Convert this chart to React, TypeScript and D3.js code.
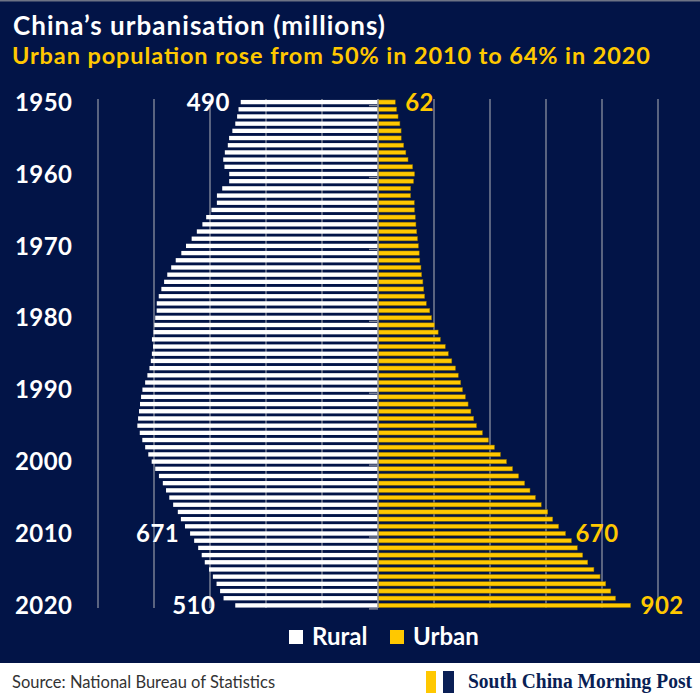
import React from "react";
import * as d3 from "d3";

const years: number[] = d3.range(1950, 2021);
const rural: number[] = [
  490.27, 498.18, 503.19, 509.7, 520.17, 531.8, 536.43, 547.04, 552.73, 548.36,
  531.34, 531.52, 556.36, 575.26, 575.49, 594.93, 613.68, 627.2, 647.04, 665.54,
  685.68, 702.45, 722.42, 738.66, 752.64, 763.9, 773.76, 783.05, 790.14, 790.47,
  795.65, 799.01, 801.74, 807.34, 803.4, 807.57, 811.41, 816.26, 823.65, 831.64,
  841.38, 846.2, 849.96, 853.44, 856.81, 859.47, 850.85, 841.77, 831.53, 820.38,
  808.37, 795.63, 782.41, 768.51, 757.05, 745.44, 731.6, 714.96, 703.99, 689.38,
  671.13, 656.56, 642.22, 629.61, 618.66, 603.46, 589.73, 576.61, 564.01, 551.62,
  509.79,
];
const urban: number[] = [
  61.69, 66.32, 71.63, 78.26, 82.49, 82.85, 91.85, 99.49, 107.21, 123.71,
  130.73, 127.07, 116.59, 116.46, 129.5, 130.45, 133.13, 135.48, 138.38, 141.17,
  144.24, 147.11, 149.35, 153.45, 155.95, 160.3, 163.41, 166.69, 172.45, 184.95,
  191.4, 201.71, 214.8, 222.74, 240.17, 250.94, 263.66, 276.74, 286.61, 295.4,
  301.95, 312.03, 321.75, 331.73, 341.69, 351.74, 373.04, 394.49, 416.08, 437.48,
  459.06, 480.64, 502.12, 523.76, 542.83, 562.12, 582.88, 606.33, 624.03, 645.12,
  669.78, 690.79, 711.82, 731.11, 749.16, 771.16, 793.02, 813.47, 831.37, 848.43,
  902.2,
];
const tickYears: number[] = [1950, 1960, 1970, 1980, 1990, 2000, 2010, 2020];
const gridValues: number[] = [-1000, -800, -600, -400, -200, 0, 200, 400, 600, 800, 1000];
const labelYears: number[] = [1950, 2010, 2020];
const ruralLabelGap: number[] = [11, 11, 20];

const title = "China\u2019s urbanisation (millions)";
const subtitle = "Urban population rose from 50% in 2010 to 64% in 2020";
const source = "Source: National Bureau of Statistics";
const brand = "South China Morning Post";
const legendItems = ["Rural", "Urban"];

const BG = "#021447";
const YELLOW = "#FFC800";
const GRID = "#8a8fa0";
const FONT = "Lato, 'Open Sans', sans-serif";

export default function App() {
  const x = d3.scaleLinear().domain([-1000, 1000]).range([98, 658]);
  const y = d3
    .scaleBand<number>()
    .domain(years)
    .range([98.5, 609])
    .paddingInner(0.4)
    .paddingOuter(0.2);
  const bw = y.bandwidth();
  const [y0, y1] = y.range();
  const cy = (yr: number) => (y(yr) as number) + bw / 2;
  const idx = (yr: number) => years.indexOf(yr);

  return (
    <svg
      width={700}
      height={700}
      style={{ position: "absolute", left: 0, top: 0, display: "block" }}
      fontFamily={FONT}
    >
      <rect x={0} y={0} width={700} height={700} fill={BG} />
      <rect x={0} y={0} width={700} height={1.5} fill="#6d7385" />
      <text
        x={13}
        y={35}
        fill="#ffffff"
        fontSize={26}
        fontWeight={700}
        textLength={372}
        lengthAdjust="spacing"
      >
        {title}
      </text>
      <text
        x={12}
        y={64}
        fill={YELLOW}
        fontSize={23.5}
        fontWeight={700}
        textLength={638}
        lengthAdjust="spacing"
      >
        {subtitle}
      </text>

      {/* gridlines */}
      {gridValues.map((v) => (
        <line
          key={"g" + v}
          x1={x(v)}
          x2={x(v)}
          y1={y0 + 0.5}
          y2={y1 - 1}
          stroke={GRID}
          strokeWidth={1.3}
        />
      ))}

      {/* bars */}
      {years.map((yr, i) => (
        <g key={yr}>
          <rect
            x={x(-rural[i])}
            y={y(yr)}
            width={x(0) - x(-rural[i])}
            height={bw}
            fill="#ffffff"
          />
          <rect
            x={x(0)}
            y={y(yr)}
            width={x(urban[i]) - x(0)}
            height={bw}
            fill={YELLOW}
            stroke="#8a6d00"
            strokeWidth={0.5}
          />
        </g>
      ))}

      {/* center axis */}
      <line x1={x(0)} x2={x(0)} y1={y0 + 0.5} y2={y1 - 1} stroke={GRID} strokeWidth={1.3} />
      {tickYears.map((yr) => (
        <line
          key={"t" + yr}
          x1={x(0) - 9}
          x2={x(0)}
          y1={cy(yr) + 3.5}
          y2={cy(yr) + 3.5}
          stroke={GRID}
          strokeWidth={1.3}
        />
      ))}

      {/* year labels */}
      {tickYears.map((yr) => (
        <text
          key={"y" + yr}
          x={15}
          y={cy(yr)}
          dy="0.36em"
          fill="#ffffff"
          fontSize={24}
          fontWeight={700}
          letterSpacing={0.4}
        >
          {yr}
        </text>
      ))}

      {/* value labels */}
      {labelYears.map((yr, k) => (
        <g key={"v" + yr}>
          <text
            x={x(-rural[idx(yr)]) - ruralLabelGap[k]}
            y={cy(yr)}
            dy="0.36em"
            textAnchor="end"
            fill="#ffffff"
            fontSize={24}
            fontWeight={700}
            letterSpacing={0.4}
          >
            {Math.round(rural[idx(yr)])}
          </text>
          <text
            x={x(urban[idx(yr)]) + 10}
            y={cy(yr)}
            dy="0.36em"
            fill={YELLOW}
            fontSize={24}
            fontWeight={700}
            letterSpacing={0.4}
          >
            {Math.round(urban[idx(yr)])}
          </text>
        </g>
      ))}

      {/* legend */}
      <rect x={289} y={630} width={14} height={14} fill="#ffffff" />
      <text x={312} y={645} fill="#ffffff" fontSize={24} fontWeight={700}>
        {legendItems[0]}
      </text>
      <rect x={390} y={630} width={14} height={14} fill={YELLOW} />
      <text x={413} y={645} fill="#ffffff" fontSize={24} fontWeight={700}>
        {legendItems[1]}
      </text>

      {/* footer */}
      <rect x={0} y={663} width={700} height={37} fill="#ffffff" />
      <text x={12} y={688} fill="#333333" fontSize={16.5}>
        {source}
      </text>
      <rect x={426} y={671} width={10} height={22} fill={YELLOW} />
      <rect x={443} y={671} width={11} height={22} fill="#0a1f55" />
      <text
        x={468}
        y={688}
        fill="#0a1f55"
        fontSize={20}
        fontWeight={700}
        fontFamily="'Liberation Serif', 'DejaVu Serif', serif"
        textLength={224}
        lengthAdjust="spacingAndGlyphs"
      >
        {brand}
      </text>
    </svg>
  );
}
